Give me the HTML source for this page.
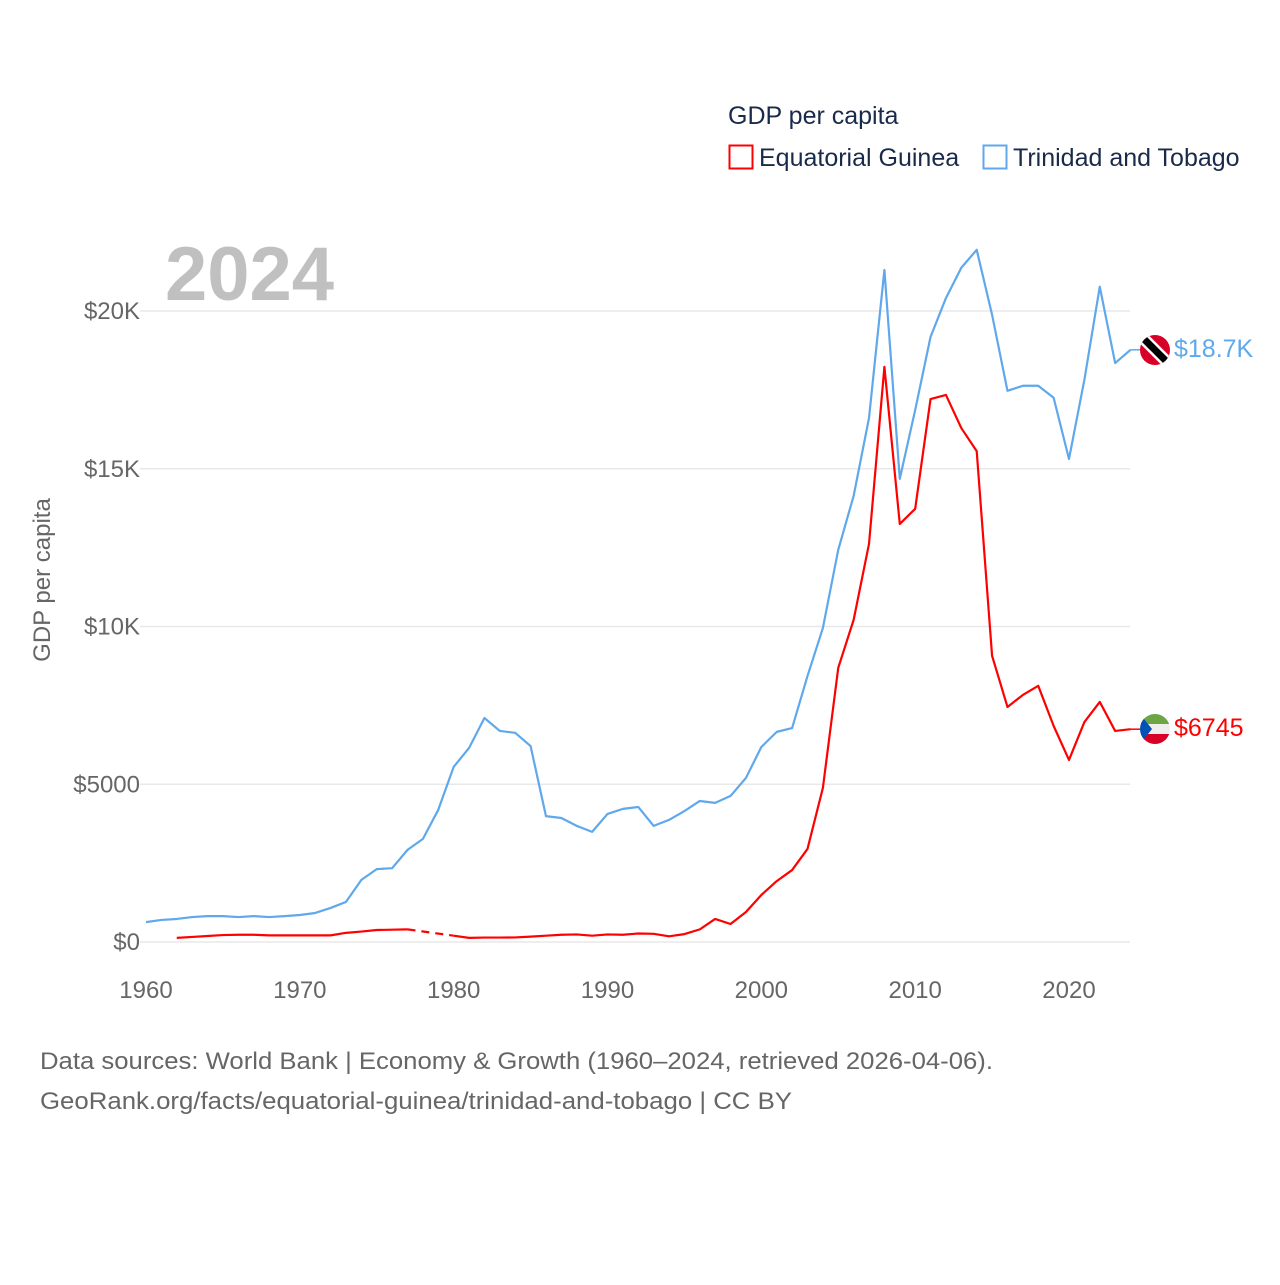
<!DOCTYPE html>
<html><head><meta charset="utf-8"><style>
body{margin:0;background:#fff;font-family:"Liberation Sans",sans-serif}
svg text{font-family:"Liberation Sans",sans-serif}
</style></head><body>
<svg width="1280" height="1280" xmlns="http://www.w3.org/2000/svg">
<g id="grid"></g>
<g id="yticks"></g>
<g id="xticks"></g>
<text x="165" y="300" font-size="76" font-weight="bold" fill="#c0c0c0">2024</text>
<text x="50" y="580" font-size="24" fill="#666" transform="rotate(-90 50 580)" text-anchor="middle">GDP per capita</text>
<g>
<text x="728" y="124" font-size="25" fill="#1a2a4a">GDP per capita</text>
<g><rect x="729.5" y="145.5" width="23" height="23" fill="none" stroke="#ff0000" stroke-width="2"/><text x="759" y="166" font-size="25" fill="#1a2a4a">Equatorial Guinea</text></g>
<g><rect x="983.5" y="145.5" width="23" height="23" fill="none" stroke="#5fa8ec" stroke-width="2"/><text x="1013" y="166" font-size="25" fill="#1a2a4a">Trinidad and Tobago</text></g>
</g>
<g id="lines"></g>
<g>
<clipPath id="c1"><circle cx="1155" cy="350" r="15"/></clipPath>
<g clip-path="url(#c1)"><rect x="1140" y="335" width="30" height="30" fill="#d80027"/><line x1="1140" y1="335" x2="1170" y2="365" stroke="#fff" stroke-width="12"/><line x1="1140" y1="335" x2="1170" y2="365" stroke="#000" stroke-width="7"/></g>
<text x="1174" y="357" font-size="25" fill="#5fa8ec">$18.7K</text>
</g>
<g>
<clipPath id="c2"><circle cx="1155" cy="729" r="15"/></clipPath>
<g clip-path="url(#c2)"><rect x="1140" y="714" width="30" height="10" fill="#6da544"/><rect x="1140" y="724" width="30" height="10" fill="#eee"/><rect x="1140" y="734" width="30" height="10" fill="#d80027"/><polygon points="1140,714 1152,729 1140,744" fill="#0052b4"/></g>
<text x="1174" y="736" font-size="25" fill="#ff0000">$6745</text>
</g>
<text x="40" y="1069" font-size="24" fill="#666" textLength="953" lengthAdjust="spacingAndGlyphs">Data sources: World Bank | Economy &amp; Growth (1960–2024, retrieved 2026-04-06).</text>
<text x="40" y="1109" font-size="24" fill="#666" textLength="752" lengthAdjust="spacingAndGlyphs">GeoRank.org/facts/equatorial-guinea/trinidad-and-tobago | CC BY</text>
</svg>
<script>
const years=[];for(let y=1960;y<=2024;y++)years.push(y);
const ttValues=[630,700,730,790,820,820,790,820,790,820,855,920,1080,1270,1970,2310,2340,2920,3270,4190,5550,6150,7100,6690,6630,6210,3990,3930,3680,3490,4060,4220,4280,3680,3870,4150,4470,4410,4630,5200,6180,6660,6780,8430,9950,12430,14140,16610,21300,14680,16860,19180,20410,21370,21940,19880,17470,17630,17630,17250,15310,17820,20770,18350,18770];
const egValues=[null,null,130,160,190,220,230,230,210,210,210,210,210,290,330,380,390,400,null,null,200,130,140,140,145,170,200,230,240,200,240,230,270,260,180,250,400,730,570,950,1490,1930,2280,2950,4880,8690,10210,12620,18230,13250,13730,17210,17340,16290,15560,9070,7450,7830,8120,6850,5770,6970,7610,6690,6745];
const yTicks=[0,5000,10000,15000,20000];
const yTickLabels=["$0","$5000","$10K","$15K","$20K"];
const xTicks=[1960,1970,1980,1990,2000,2010,2020];
const NS="http://www.w3.org/2000/svg";
const X=y=>146+(y-1960)*(1069-146)/60;
const Y=v=>942-v*(942-311)/20000;
function mk(t,a,p){const e=document.createElementNS(NS,t);for(const k in a)e.setAttribute(k,a[k]);p.appendChild(e);return e;}
const grid=document.getElementById('grid'),yt=document.getElementById('yticks'),xt=document.getElementById('xticks'),lines=document.getElementById('lines');
yTicks.forEach((v,i)=>{
 const l=mk('line',{x1:140,x2:1130,y1:Y(v),y2:Y(v),stroke:'#e8e8e8','stroke-width':1.5},grid);
 
 
 const t=mk('text',{x:140,y:Y(v)+8,'text-anchor':'end','font-size':24,fill:'#666'},yt);
 t.textContent=yTickLabels[i];
 
 
});
xTicks.forEach(v=>{
 const t=mk('text',{x:X(v),y:998,'text-anchor':'middle','font-size':24,fill:'#666'},xt);
 t.textContent=v;
 
 
});
function draw(vals,color,name){
 let segs=[],cur=[],prev=null,dashes=[];
 vals.forEach((v,i)=>{
  if(v==null){if(cur.length){segs.push(cur);prev=cur[cur.length-1];cur=[];}return;}
  const p=[X(years[i]),Y(v)];
  if(!cur.length&&prev)dashes.push([prev,p]);
  cur.push(p);
 });
 if(cur.length)segs.push(cur);
 segs.forEach(s=>{
  const e=mk('polyline',{points:s.map(p=>p.join(',')).join(' '),fill:'none',stroke:color,'stroke-width':2.2,'stroke-linejoin':'round'},lines);
  
  
 });
 dashes.forEach(d=>{
  const e=mk('line',{x1:d[0][0],y1:d[0][1],x2:d[1][0],y2:d[1][1],stroke:color,'stroke-width':2.2,'stroke-dasharray':'8,6'},lines);
  
  
 });
 const last=vals[vals.length-1];
 const c=mk('line',{x1:X(2024),y1:Y(last),x2:1140,y2:Y(last),stroke:color,'stroke-width':1.5},lines);
 
 
}
draw(ttValues,'#5fa8ec','trinidad-line');
draw(egValues,'#ff0000','equatorial-guinea-line');
</script>
</body></html>
